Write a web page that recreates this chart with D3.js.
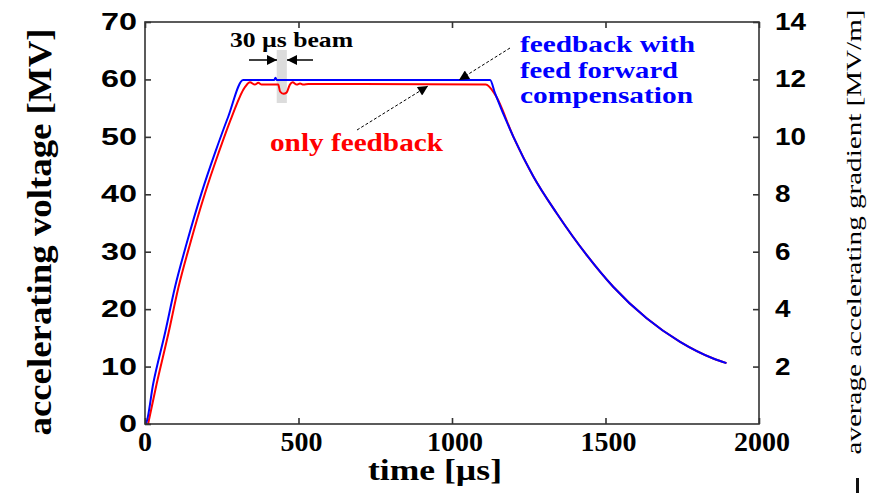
<!DOCTYPE html>
<html>
<head>
<meta charset="utf-8">
<script src="https://cdn.jsdelivr.net/npm/d3@7"></script>
<style>
  html, body { margin: 0; padding: 0; background: #fff; }
  svg { display: block; }
</style>
</head>
<body>
<svg id="chart" width="871" height="495"></svg>
<script>
// Cavity voltage during an RF pulse: fill, flat-top with 30 µs beam, decay.
const timeFF = [0, 3, 27, 65, 98, 136, 184, 228, 271, 320, 421, 425, 429,
  1124, 1140, 1200, 1265, 1341, 1439, 1525, 1634, 1743, 1851, 1894];
const voltFF = [0, 0.1, 7.1, 15.8, 23.9, 31.5, 40.2, 47.2, 53.5, 59.9, 59.9, 60.3, 59.9,
  59.9, 57.6, 50.0, 43.1, 36.7, 29.4, 23.9, 18.4, 14.3, 11.4, 10.6];

const timeFB = [10, 38, 76, 109, 147, 195, 239, 282, 326, 342, 358, 369, 380, 434, 440,
  451, 461, 472, 481, 494, 505, 516, 532, 1110, 1140, 1200, 1265, 1341, 1439, 1525,
  1634, 1743, 1851, 1894];
const voltFB = [0, 7.0, 15.7, 23.8, 31.4, 40.1, 47.1, 53.4, 58.7, 59.5, 59.1, 59.4, 59.1, 59.1, 57.9,
  57.5, 57.7, 59.1, 59.5, 59.1, 59.3, 59.1, 59.2, 59.1, 57.4, 50.0, 43.1, 36.7, 29.4, 23.9,
  18.4, 14.3, 11.4, 10.6];

const beamWindow = [429, 462];          // µs
const xTicks = [0, 500, 1000, 1500, 2000];
const yTicks = [0, 10, 20, 30, 40, 50, 60, 70];
const gradTicks = [2, 4, 6, 8, 10, 12, 14];   // MV/m
const cavityLength = 5;                 // m, voltage / gradient

const svg = d3.select("#chart");
const plot = { left: 145, right: 759, top: 22, bottom: 424 };

const x = d3.scaleLinear().domain([0, 2000]).range([plot.left, plot.right]);
const y = d3.scaleLinear().domain([0, 70]).range([plot.bottom, plot.top]);
const yR = d3.scaleLinear().domain([0, 70 / cavityLength]).range([plot.bottom, plot.top]);

const serif = "'Liberation Serif', 'Times New Roman', serif";
const sans = "'Liberation Sans', Arial, sans-serif";

// beam window shading
svg.append("rect")
  .attr("x", x(beamWindow[0])).attr("width", x(beamWindow[1]) - x(beamWindow[0]))
  .attr("y", 50).attr("height", 53)
  .attr("fill", "#dcdcdc");

// curves
const line = d3.line().x(d => x(d[0])).y(d => y(d[1])).curve(d3.curveMonotoneX);
svg.append("path")
  .datum(d3.zip(timeFB, voltFB))
  .attr("d", line).attr("fill", "none").attr("stroke", "#ff0000").attr("stroke-width", 2);
svg.append("path")
  .datum(d3.zip(timeFF, voltFF))
  .attr("d", line).attr("fill", "none").attr("stroke", "#0000ff").attr("stroke-width", 2);

// frame
svg.append("rect")
  .attr("x", plot.left).attr("y", plot.top)
  .attr("width", plot.right - plot.left).attr("height", plot.bottom - plot.top)
  .attr("fill", "none").attr("stroke", "#333").attr("stroke-width", 1.6);

const tickLen = 6;
// axes with inward ticks
const gB = svg.append("g").attr("transform", `translate(0,${plot.bottom})`)
  .call(d3.axisTop(x).tickValues(xTicks).tickSize(tickLen).tickFormat(""));
const gT = svg.append("g").attr("transform", `translate(0,${plot.top})`)
  .call(d3.axisBottom(x).tickValues(xTicks).tickSize(tickLen).tickFormat(""));
const gL = svg.append("g").attr("transform", `translate(${plot.left},0)`)
  .call(d3.axisRight(y).tickValues(yTicks).tickSize(tickLen).tickFormat(""));
const gR = svg.append("g").attr("transform", `translate(${plot.right},0)`)
  .call(d3.axisLeft(yR).tickValues(gradTicks).tickSize(tickLen).tickFormat(""));
[gB, gT, gL, gR].forEach(g => {
  g.select(".domain").remove();
  g.selectAll("line").attr("stroke", "#333").attr("stroke-width", 1.6);
});

// tick labels
svg.append("g").selectAll("text").data(xTicks).join("text")
  .attr("x", d => x(d) + (d > 0 ? 3 : 0)).attr("y", 451)
  .attr("text-anchor", "middle")
  .attr("font-family", serif).attr("font-weight", "bold").attr("font-size", 28)
  .attr("textLength", d => String(d).length * 14).attr("lengthAdjust", "spacingAndGlyphs")
  .text(d => d);

svg.append("g").selectAll("text").data(yTicks).join("text")
  .attr("x", 137).attr("y", d => y(d) + 8)
  .attr("text-anchor", "end")
  .attr("font-family", sans).attr("font-weight", "bold").attr("font-size", 23)
  .attr("textLength", d => String(d).length * 18).attr("lengthAdjust", "spacingAndGlyphs")
  .text(d => d);

svg.append("g").selectAll("text").data(gradTicks).join("text")
  .attr("x", 775).attr("y", d => yR(d) + 8)
  .attr("text-anchor", "start")
  .attr("font-family", sans).attr("font-weight", "bold").attr("font-size", 23)
  .attr("textLength", d => String(d).length * 15.5).attr("lengthAdjust", "spacingAndGlyphs")
  .text(d => d);

// axis titles
svg.append("text")
  .attr("transform", "translate(51,232) rotate(-90)")
  .attr("text-anchor", "middle")
  .attr("font-family", serif).attr("font-weight", "bold").attr("font-size", 34)
  .attr("textLength", 407).attr("lengthAdjust", "spacingAndGlyphs")
  .text("accelerating voltage [MV]");

svg.append("text")
  .attr("x", 435).attr("y", 480)
  .attr("text-anchor", "middle")
  .attr("font-family", serif).attr("font-weight", "bold").attr("font-size", 29)
  .attr("textLength", 134).attr("lengthAdjust", "spacingAndGlyphs")
  .text("time [\u00b5s]");

svg.append("text")
  .attr("transform", "translate(861,232) rotate(-90)")
  .attr("text-anchor", "middle")
  .attr("font-family", serif).attr("font-size", 20)
  .attr("textLength", 445).attr("lengthAdjust", "spacingAndGlyphs")
  .text("average accelerating gradient [MV/m]");

svg.append("rect").attr("x", 856).attr("y", 478).attr("width", 3).attr("height", 15).attr("fill", "#111");

// annotations
svg.append("text")
  .attr("x", 230).attr("y", 47)
  .attr("font-family", serif).attr("font-weight", "bold").attr("font-size", 21)
  .attr("textLength", 123).attr("lengthAdjust", "spacingAndGlyphs")
  .text("30 \u00b5s beam");

svg.append("text")
  .attr("x", 270).attr("y", 151)
  .attr("font-family", serif).attr("font-weight", "bold").attr("font-size", 25)
  .attr("textLength", 173).attr("lengthAdjust", "spacingAndGlyphs")
  .attr("fill", "#ff0000")
  .text("only feedback");

const ffLines = ["feedback with", "feed forward", "compensation"];
const ffWidths = [175, 158, 173];
svg.append("g").selectAll("text").data(ffLines).join("text")
  .attr("x", 520).attr("y", (d, i) => 52 + i * 25.5)
  .attr("font-family", serif).attr("font-weight", "bold").attr("font-size", 24)
  .attr("textLength", (d, i) => ffWidths[i]).attr("lengthAdjust", "spacingAndGlyphs")
  .attr("fill", "#0000ff")
  .text(d => d);

// arrows
const defs = svg.append("defs");
defs.append("marker").attr("id", "head")
  .attr("viewBox", "0 0 10 10").attr("refX", 10).attr("refY", 5)
  .attr("markerWidth", 13).attr("markerHeight", 10).attr("markerUnits", "userSpaceOnUse")
  .attr("orient", "auto")
  .append("path").attr("d", "M0,0 L10,5 L0,10 Z").attr("fill", "#000");

function arrow(x1, y1, x2, y2, dashed) {
  svg.append("line")
    .attr("x1", x1).attr("y1", y1).attr("x2", x2).attr("y2", y2)
    .attr("stroke", "#000").attr("stroke-width", dashed ? 1 : 1.5)
    .attr("stroke-dasharray", dashed ? "3,2" : null)
    .attr("marker-end", "url(#head)");
}
// beam width markers
arrow(249, 60, 277, 60, false);
arrow(313, 60, 287, 60, false);
// pointers to the curves
arrow(510, 48, 459, 80, true);
arrow(357, 130, 428, 86, true);
</script>
</body>
</html>
